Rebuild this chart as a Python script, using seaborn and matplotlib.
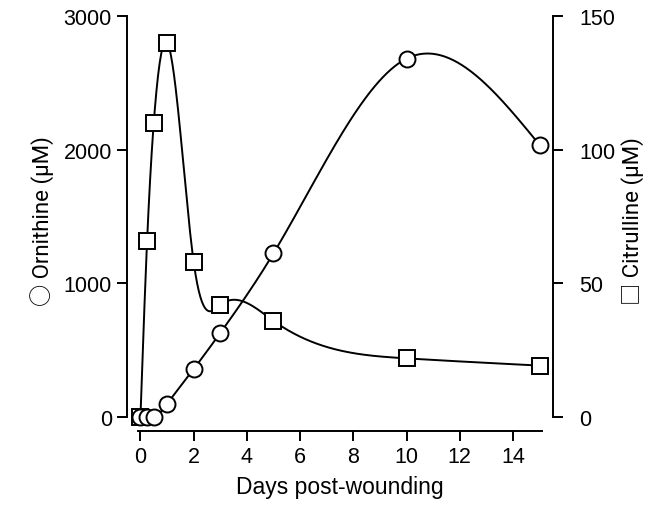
import numpy as np
import pandas as pd
import matplotlib
matplotlib.use("Agg")
import matplotlib.pyplot as plt
import seaborn as sns

# valeurs
jours = [0, 0.25, 0.5, 1, 2, 3, 5, 10, 15]
ornithine = [0, 0, 0, 100, 360, 630, 1225, 2680, 2035]
citrulline = [0, 66, 110, 140, 58, 42, 36, 22, 19.3]


def spline_naturelle(x, y, n=500):
    # spline cubique naturelle pour la courbe lissee
    x = np.asarray(x, float)
    y = np.asarray(y, float)
    k = len(x)
    h = np.diff(x)
    A = np.zeros((k, k))
    b = np.zeros(k)
    A[0, 0] = 1
    A[-1, -1] = 1
    for i in range(1, k - 1):
        A[i, i - 1] = h[i - 1]
        A[i, i] = 2 * (h[i - 1] + h[i])
        A[i, i + 1] = h[i]
        b[i] = 6 * ((y[i + 1] - y[i]) / h[i] - (y[i] - y[i - 1]) / h[i - 1])
    M = np.linalg.solve(A, b)
    xs = np.linspace(x[0], x[-1], n)
    idx = np.clip(np.searchsorted(x, xs) - 1, 0, k - 2)
    x0, x1 = x[idx], x[idx + 1]
    hh = x1 - x0
    t0, t1 = x1 - xs, xs - x0
    ys = (M[idx] * t0 ** 3 + M[idx + 1] * t1 ** 3) / (6 * hh) \
        + (y[idx] / hh - M[idx] * hh / 6) * t0 \
        + (y[idx + 1] / hh - M[idx + 1] * hh / 6) * t1
    return xs, ys


sns.set_theme(style="ticks")
plt.rcParams["font.family"] = ["Liberation Sans", "DejaVu Sans"]

fig = plt.figure(figsize=(6.52, 5.06), dpi=100)
ax = fig.add_axes([0.195, 0.147, 0.653, 0.833])
ax2 = ax.twinx()
ax.set_zorder(ax2.get_zorder() + 1)
ax.patch.set_visible(False)

xo, yo = spline_naturelle(jours, ornithine)
xc, yc = spline_naturelle(jours, citrulline)
courbe_o = pd.DataFrame({"jour": xo, "val": yo})
courbe_c = pd.DataFrame({"jour": xc, "val": yc})
pts_o = pd.DataFrame({"jour": jours, "val": ornithine})
pts_c = pd.DataFrame({"jour": jours, "val": citrulline})

sns.lineplot(data=courbe_c, x="jour", y="val", ax=ax2, color="black", lw=1.4, zorder=2)
ax2.plot(pts_c["jour"], pts_c["val"], "s", ms=12, mfc="white", mec="black", mew=1.4, zorder=3)
sns.lineplot(data=courbe_o, x="jour", y="val", ax=ax, color="black", lw=1.4, zorder=2)
ax.plot(pts_o["jour"], pts_o["val"], "o", ms=11.5, mfc="white", mec="black", mew=1.4, zorder=3)

ax.set_xlim(-0.5, 15.5)
ax.set_ylim(-100, 3050)
ax2.set_ylim(-5, 152.5)
ax.set_xticks(range(0, 15, 2))
ax.set_yticks([0, 1000, 2000, 3000])
ax2.set_yticks([0, 50, 100, 150])

for a in (ax, ax2):
    a.spines["top"].set_visible(False)
    for s in a.spines.values():
        s.set_linewidth(1.4)
        s.set_color("black")
ax.spines["right"].set_visible(False)
ax2.spines["left"].set_visible(False)
ax2.spines["bottom"].set_visible(False)
ax.spines["bottom"].set_bounds(-0.1, 15.1)
ax.spines["left"].set_bounds(0, 3000)
ax2.spines["right"].set_bounds(0, 150)

ax.tick_params(axis="both", length=7, width=1.4, color="black", labelsize=15.5, pad=4, labelcolor="black")
ax2.tick_params(axis="y", length=7, width=1.4, color="black", labelsize=15.5, pad=12, labelcolor="black")
for lab in ax2.get_yticklabels():
    lab.set_horizontalalignment("left")

famille = ["Roboto", "Noto Sans CJK JP", "DejaVu Sans"]
ax.set_xlabel("Days post-wounding", fontsize=16.5, color="black", labelpad=6)
ax.set_ylabel("\u25cb Ornithine (\u00b5M)", fontsize=16, color="black", labelpad=7, family=famille)
ax2.set_ylabel("\u25a1 Citrulline (\u00b5M)", fontsize=16, color="black", labelpad=4,
               rotation=90, family=famille)

fig.savefig("out.png", dpi=100)
